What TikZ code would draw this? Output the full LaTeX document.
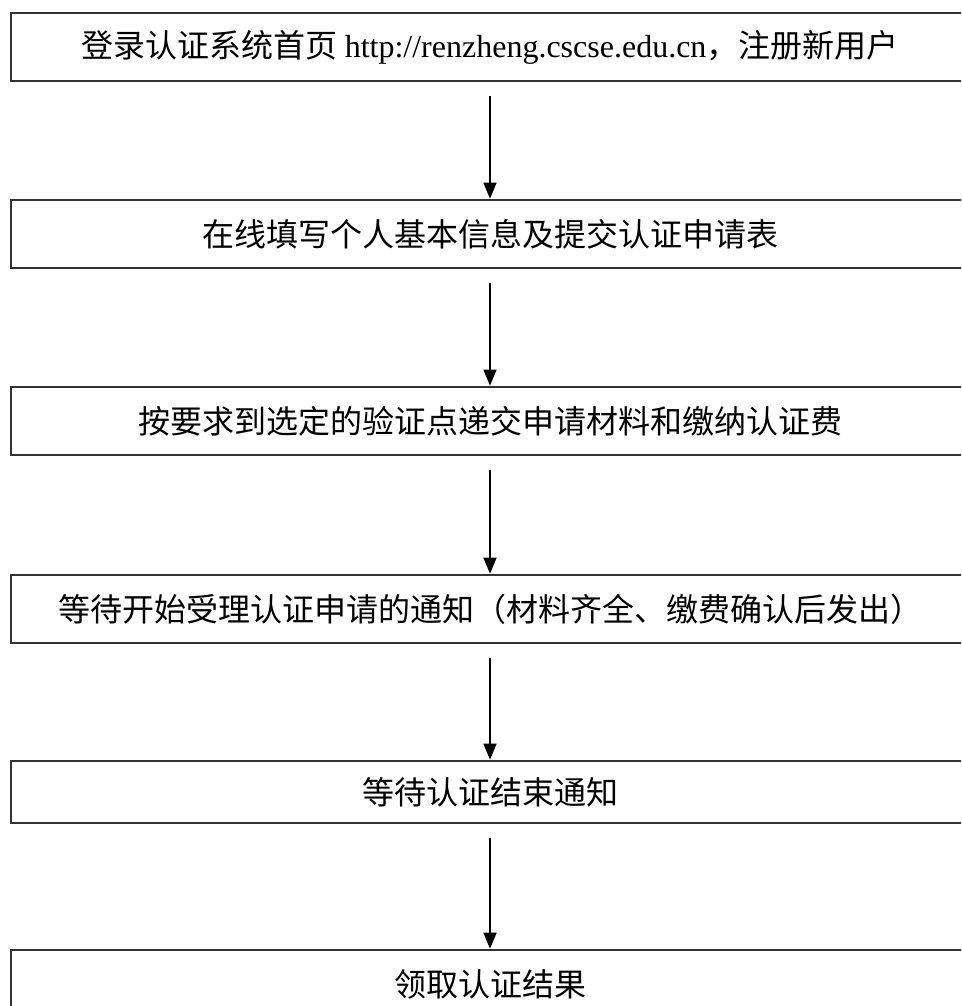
\documentclass[tikz,border=0pt]{standalone}
\usepackage{fontspec}
\setmainfont{Liberation Serif}
\newfontfamily\cjk{Noto Sans CJK SC}
\usetikzlibrary{arrows.meta}
\begin{document}
\begin{tikzpicture}[x=1pt,y=-1pt,
  stepbox/.style={draw=black!80, line width=2.6pt, minimum width=958pt, minimum height=68pt,
    inner sep=0pt, font=\fontsize{32pt}{36pt}\selectfont\cjk, text=black},
  flow/.style={line width=1.4pt, draw=black, -{Triangle[width=13pt,length=16pt]}}]
\useasboundingbox (0,0) rectangle (961,1006);
\clip (0,0) rectangle (961,1006);
\fill[white] (0,0) rectangle (961,1006);
\node[stepbox] (b1) at (490,47) {登录认证系统首页 {\rmfamily http://renzheng.cscse.edu.cn}，注册新用户};
\node[stepbox] (b2) at (490,234) {在线填写个人基本信息及提交认证申请表};
\node[stepbox] (b3) at (490,421) {按要求到选定的验证点递交申请材料和缴纳认证费};
\node[stepbox] (b4) at (490,609) {等待开始受理认证申请的通知（材料齐全、缴费确认后发出）};
\node[stepbox, minimum height=62pt] (b5) at (490,792) {等待认证结束通知};
\node[stepbox] (b6) at (490,984) {领取认证结果};
\draw[flow] ([yshift=-14pt]b1.south) -- (b2.north);
\draw[flow] ([yshift=-14pt]b2.south) -- (b3.north);
\draw[flow] ([yshift=-14pt]b3.south) -- (b4.north);
\draw[flow] ([yshift=-14pt]b4.south) -- (b5.north);
\draw[flow] ([yshift=-14pt]b5.south) -- (b6.north);
\end{tikzpicture}
\end{document}
